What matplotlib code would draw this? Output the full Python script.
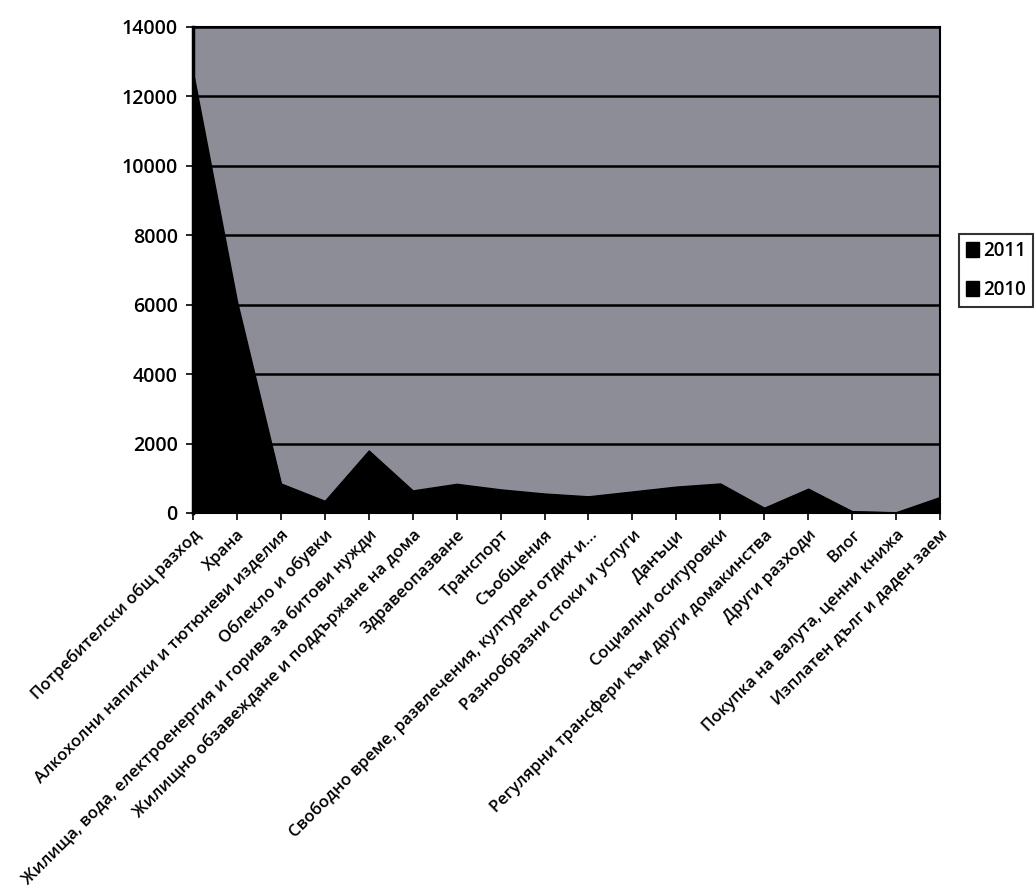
import numpy as np
import matplotlib.pyplot as plt

plt.rcParams['font.family'] = ['Open Sans', 'DejaVu Sans']

categories = [
    'Потребителски общ разход',
    'Храна',
    'Алкохолни напитки и тютюневи изделия',
    'Облекло и обувки',
    'Жилища, вода, електроенергия и горива за битови нужди',
    'Жилищно обзавеждане и поддържане на дома',
    'Здравеопазване',
    'Транспорт',
    'Съобщения',
    'Свободно време, развлечения, културен отдих и...',
    'Разнообразни стоки и услуги',
    'Данъци',
    'Социални осигуровки',
    'Регулярни трансфери към други домакинства',
    'Други разходи',
    'Влог',
    'Покупка на валута, ценни книжа',
    'Изплатен дълг и даден заем',
]
values_2011 = [12700, 6100, 850, 350, 1800, 650, 840, 680, 560, 480,
               620, 760, 850, 150, 700, 50, 20, 460]
values_2010 = [12300, 5900, 820, 330, 1700, 620, 800, 650, 540, 460,
               600, 730, 820, 140, 660, 45, 15, 430]
years = ['2011', '2010']

fig = plt.figure(figsize=(10.36, 8.9), dpi=100)
ax = fig.add_axes([0.1863, 0.4236, 0.7210, 0.5461])

x = np.arange(len(categories))
ax.set_facecolor('#8d8d97')
ax.fill_between(x, values_2011, color='black', label=years[0], zorder=2)
ax.fill_between(x, values_2010, color='black', label=years[1], zorder=3)

ax.set_ylim(0, 14000)
ax.set_yticks(np.arange(0, 14001, 2000))
ax.set_xlim(0, len(categories) - 1)
ax.set_xticks(x)
ax.set_xticklabels(categories, rotation=45, ha='right', rotation_mode='anchor',
                   fontsize=12, fontweight='semibold')
for lbl in ax.get_yticklabels():
    lbl.set_fontsize(14)
    lbl.set_fontweight('semibold')
ax.yaxis.grid(True, color='black', linewidth=1.8, zorder=1)
ax.set_axisbelow(True)
ax.tick_params(axis='both', direction='out', length=5, width=1.2, color='black')
ax.tick_params(axis='y', pad=6)
ax.tick_params(axis='x', pad=5)
for s in ax.spines.values():
    s.set_color('black')
    s.set_linewidth(1.5)
ax.spines['left'].set_linewidth(2.5)

leg = ax.legend(loc='upper left', bbox_to_anchor=(1.025, 0.575), frameon=True,
                fancybox=False, edgecolor='black', handlelength=0.7,
                handleheight=0.9, handletextpad=0.2, labelspacing=1.0,
                borderpad=0.4, borderaxespad=0,
                prop={'size': 13.5, 'weight': 'semibold'})
leg.get_frame().set_linewidth(1.5)

fig.savefig('out.png', dpi=100)
